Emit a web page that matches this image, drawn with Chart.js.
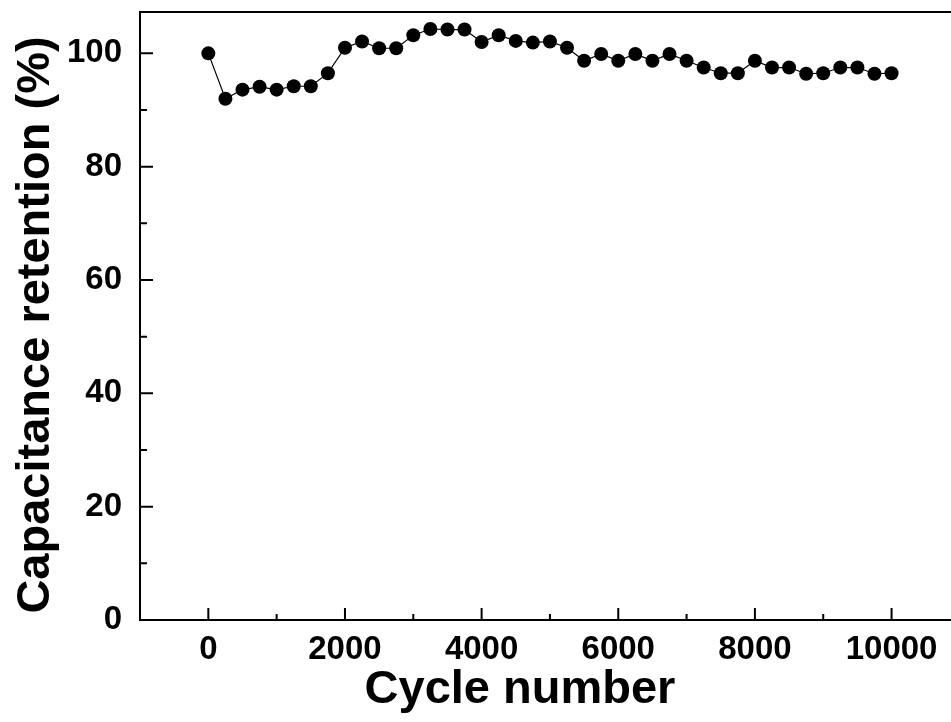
<!DOCTYPE html>
<html>
<head>
<meta charset="utf-8">
<script src="https://cdn.jsdelivr.net/npm/chart.js@4"></script>
<style>
  html, body { margin: 0; padding: 0; background: #fff; }
  #wrap { width: 951px; height: 722px; }
</style>
</head>
<body>
<div id="wrap"><canvas id="myChart" width="951" height="722"></canvas></div>
<script>
// data
const cycles = [0, 250, 500, 750, 1000, 1250, 1500, 1750, 2000, 2250, 2500, 2750, 3000, 3250,
  3500, 3750, 4000, 4250, 4500, 4750, 5000, 5250, 5500, 5750, 6000, 6250, 6500, 6750, 7000,
  7250, 7500, 7750, 8000, 8250, 8500, 8750, 9000, 9250, 9500, 9750, 10000];
const retention = [100, 92.0, 93.6, 94.1, 93.6, 94.2, 94.2, 96.5, 101.0, 102.1, 100.9, 100.9,
  103.2, 104.3, 104.2, 104.2, 102.0, 103.2, 102.2, 101.9, 102.1, 101.0, 98.7, 99.9, 98.7,
  99.9, 98.7, 99.9, 98.7, 97.5, 96.5, 96.5, 98.7, 97.5, 97.5, 96.4, 96.5, 97.5, 97.5, 96.4, 96.5];
const xTicks = [0, 2000, 4000, 6000, 8000, 10000];
const xMinor = [1000, 3000, 5000, 7000, 9000];
const yTicks = [0, 20, 40, 60, 80, 100];
const yMinor = [10, 30, 50, 70, 90];
const xTitle = 'Cycle number';
const yTitle = 'Capacitance retention (%)';

const FONT = '"Liberation Sans", Arial, sans-serif';

// inward ticks, top frame line and axis titles
const framePlugin = {
  id: 'frame',
  afterDraw(chart) {
    const c = chart.ctx, a = chart.chartArea;
    const xs = chart.scales.x, ys = chart.scales.y;
    c.save();
    c.strokeStyle = '#000';
    c.lineWidth = 2;
    c.beginPath();
    c.moveTo(a.left - 1, a.top);
    c.lineTo(a.right, a.top);
    xTicks.forEach(v => { const p = xs.getPixelForValue(v); c.moveTo(p, a.bottom); c.lineTo(p, a.bottom - 12); });
    xMinor.forEach(v => { const p = xs.getPixelForValue(v); c.moveTo(p, a.bottom); c.lineTo(p, a.bottom - 6); });
    yTicks.forEach(v => { const p = ys.getPixelForValue(v); c.moveTo(a.left, p); c.lineTo(a.left + 13, p); });
    yMinor.forEach(v => { const p = ys.getPixelForValue(v); c.moveTo(a.left, p); c.lineTo(a.left + 7, p); });
    c.stroke();

    c.fillStyle = '#000';
    c.font = 'bold 47px ' + FONT;
    c.textAlign = 'center';
    c.textBaseline = 'alphabetic';
    c.fillText(xTitle, 520, 703);
    c.translate(49, 325);
    c.rotate(-Math.PI / 2);
    c.fillText(yTitle, 0, 0);
    c.restore();
  }
};

const ctx = document.getElementById('myChart');
const myChart = new Chart(ctx, {
  type: 'line',
  data: {
    datasets: [{
      data: cycles.map((x, i) => ({ x: x, y: retention[i] })),
      borderColor: '#000',
      backgroundColor: '#000',
      borderWidth: 1.2,
      pointRadius: 7,
      pointBorderWidth: 0,
      pointBackgroundColor: '#000',
      tension: 0
    }]
  },
  options: {
    responsive: false,
    animation: false,
    events: [],
    layout: { autoPadding: false, padding: { top: 12, left: 0, right: 0, bottom: 0 } },
    plugins: { legend: { display: false }, tooltip: { enabled: false } },
    scales: {
      x: {
        type: 'linear',
        min: -1000,
        max: 10870,
        afterBuildTicks: s => { s.ticks = xTicks.map(v => ({ value: v })); },
        afterFit: s => { s.height = 102; s.paddingLeft = 0; s.paddingRight = 0; },
        grid: { display: false, drawTicks: false },
        border: { display: true, color: '#000', width: 2 },
        ticks: { color: '#000', padding: 10, maxRotation: 0, callback: v => String(v),
          font: { family: FONT, size: 33, weight: 'bold' } }
      },
      y: {
        min: 0,
        max: 107.3,
        afterBuildTicks: s => { s.ticks = yTicks.map(v => ({ value: v })); },
        afterFit: s => { s.width = 140; s.paddingTop = 0; s.paddingBottom = 0; },
        grid: { display: false, drawTicks: false },
        border: { display: true, color: '#000', width: 2 },
        ticks: { color: '#000', padding: 18, callback: v => String(v),
          font: { family: FONT, size: 33, weight: 'bold' } }
      }
    }
  },
  plugins: [framePlugin]
});
</script>
</body>
</html>
